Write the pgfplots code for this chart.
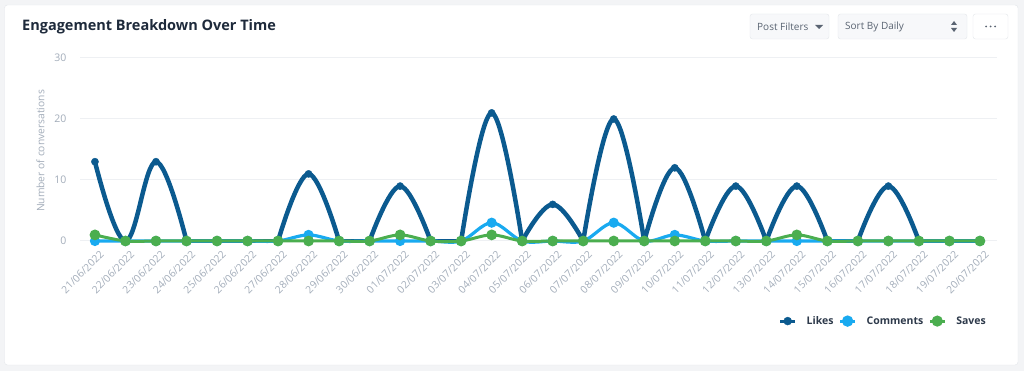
\documentclass[border=0pt]{standalone}
\usepackage{fontspec}
\setmainfont{Open Sans}
\usepackage{pgfplots}
\pgfplotsset{compat=1.18}
\definecolor{likes}{HTML}{0B5A8F}
\definecolor{comm}{HTML}{19AAF0}
\definecolor{saves}{HTML}{4BAE4F}
\definecolor{tickc}{HTML}{A3ADBA}
\definecolor{titlec}{HTML}{1E2A3B}
\definecolor{gridc}{HTML}{EEF0F3}
\definecolor{bgc}{HTML}{F3F4F6}
\definecolor{cardb}{HTML}{E4E7EB}
\definecolor{btnf}{HTML}{F7F8FA}
\definecolor{btnt}{HTML}{5A6472}
\definecolor{legt}{HTML}{2E3A4B}
\pgfplotsset{likeline/.style={draw=likes, line width=4.5pt, smooth, tension=0.65, no marks, forget plot}}
\begin{document}
\begin{tikzpicture}[x=1pt,y=1pt]
\fill[bgc] (0,0) rectangle (1024,371);
\filldraw[fill=white, draw=cardb, rounded corners=3pt] (4.5,6) rectangle (1018,366);
\node[anchor=west, text=titlec, font=\fontsize{14.5}{17}\selectfont\bfseries, inner sep=0pt] at (22,344) {Engagement Breakdown Over Time};
% buttons
\filldraw[fill=btnf, draw=cardb, rounded corners=2.5pt] (750,332) rectangle (829,357);
\node[anchor=west, text=btnt, font=\fontsize{10}{12}\selectfont, inner sep=0pt] at (757,344.5) {Post Filters};
\fill[btnt] (815,346) -- (823,346) -- (819,342) -- cycle;
\filldraw[fill=btnf, draw=cardb, rounded corners=2.5pt] (838,332) rectangle (967,357);
\node[anchor=west, text=btnt, font=\fontsize{10}{12}\selectfont, inner sep=0pt] at (845,344.5) {Sort By Daily};
\fill[btnt] (951,346) -- (957,346) -- (954,350) -- cycle;
\fill[btnt] (951,343) -- (957,343) -- (954,339) -- cycle;
\filldraw[fill=white, draw=cardb, rounded corners=2.5pt] (973,332) rectangle (1008,357);
\fill[btnt] (986,344.5) circle (1pt) (990.5,344.5) circle (1pt) (995,344.5) circle (1pt);
\begin{axis}[
  scale only axis,
  width=917pt, height=192.15pt,
  at={(80pt,123.9pt)}, anchor=south west,
  xmin=-0.49, xmax=29.56,
  ymin=-1, ymax=30.5,
  axis line style={draw=none},
  tick style={draw=none},
  ymajorgrids, major grid style={gridc, line width=1pt},
  ytick={0,10,20,30},
  xtick={0,...,29},
  xticklabels={21/06/2022,22/06/2022,23/06/2022,24/06/2022,25/06/2022,26/06/2022,27/06/2022,28/06/2022,29/06/2022,30/06/2022,01/07/2022,02/07/2022,03/07/2022,04/07/2022,05/07/2022,06/07/2022,07/07/2022,08/07/2022,09/07/2022,10/07/2022,11/07/2022,12/07/2022,13/07/2022,14/07/2022,15/07/2022,16/07/2022,17/07/2022,18/07/2022,19/07/2022,20/07/2022},
  /pgf/number format/assume math mode=true,
  xticklabel style={rotate=45, anchor=north east, font=\fontsize{10.3}{12}\selectfont, text=tickc, inner sep=1pt, yshift=-4pt, xshift=2pt},
  yticklabel style={font=\fontsize{10.5}{12}\selectfont, text=tickc, xshift=-10pt},
  ylabel={Number of conversations},
  ylabel style={font=\fontsize{10.3}{12}\selectfont, text=tickc, at={(axis description cs:0,0.5)}, anchor=south, yshift=32pt},
  legend columns=3,
  legend style={at={(1,0)}, anchor=east, xshift=-9pt, yshift=-74pt, draw=none, fill=none, inner sep=0pt,
    font=\fontsize{10.5}{12}\selectfont\bfseries, text=legt, column sep=8pt,
    /tikz/every even column/.append style={column sep=3pt}},
  clip=false,
]
% Likes: smooth line pieces, from one zero to the next
\addplot[likeline] coordinates {(0,13)(1,0)(2,13)(3,0)};
\addplot[likeline, sharp plot] coordinates {(3,0)(4,0)(5,0)(6,0)};
\addplot[likeline] coordinates {(6,0)(7,11)(8,0)};
\addplot[likeline, sharp plot] coordinates {(8,0)(9,0)};
\addplot[likeline] coordinates {(9,0)(10,9)(11,0)};
\addplot[likeline, sharp plot] coordinates {(11,0)(12,0)};
\addplot[likeline] coordinates {(12,0)(13,21)(14,0)};
\addplot[likeline] coordinates {(14,0)(15,6)(16,0)};
\addplot[likeline] coordinates {(16,0)(17,20)(18,0)};
\addplot[likeline] coordinates {(18,0)(19,12)(20,0)};
\addplot[likeline] coordinates {(20,0)(21,9)(22,0)};
\addplot[likeline] coordinates {(22,0)(23,9)(24,0)};
\addplot[likeline, sharp plot] coordinates {(24,0)(25,0)};
\addplot[likeline] coordinates {(25,0)(26,9)(27,0)};
\addplot[likeline, sharp plot] coordinates {(27,0)(28,0)(29,0)};
% Likes: points
\addplot[likes, only marks, mark=*, mark size=3.6pt,
  legend image code/.code={\draw[likes, line width=3pt] (0pt,0pt) -- (15pt,0pt); \fill[likes] (7.5pt,0pt) circle (4pt);}] coordinates {
(0,13)(1,0)(2,13)(3,0)(4,0)(5,0)(6,0)(7,11)(8,0)(9,0)(10,9)(11,0)(12,0)(13,21)(14,0)(15,6)(16,0)(17,20)(18,0)(19,12)(20,0)(21,9)(22,0)(23,9)(24,0)(25,0)(26,9)(27,0)(28,0)(29,0)};
\addlegendentry{Likes}
\addplot[comm, line width=3.2pt, smooth, tension=0.55, mark=*, mark size=3.4pt,
  legend image code/.code={\draw[comm, line width=3pt] (0pt,0pt) -- (15pt,0pt); \fill[comm] (7.5pt,0pt) circle (4pt);}] coordinates {
(0,0)(1,0)(2,0)(3,0)(4,0)(5,0)(6,0)(7,1)(8,0)(9,0)(10,0)(11,0)(12,0)(13,3)(14,0)(15,0)(16,0)(17,3)(18,0)(19,1)(20,0)(21,0)(22,0)(23,0)(24,0)(25,0)(26,0)(27,0)(28,0)(29,0)};
\addlegendentry{Comments}
\addplot[saves, line width=3pt, smooth, tension=0.55, mark=*, mark size=3.8pt,
  legend image code/.code={\draw[saves, line width=3pt] (0pt,0pt) -- (15pt,0pt); \fill[saves] (7.5pt,0pt) circle (4pt);}] coordinates {
(0,1)(1,0)(2,0)(3,0)(4,0)(5,0)(6,0)(7,0)(8,0)(9,0)(10,1)(11,0)(12,0)(13,1)(14,0)(15,0)(16,0)(17,0)(18,0)(19,0)(20,0)(21,0)(22,0)(23,1)(24,0)(25,0)(26,0)(27,0)(28,0)(29,0)};
\addlegendentry{Saves}
\end{axis}
\end{tikzpicture}
\end{document}
